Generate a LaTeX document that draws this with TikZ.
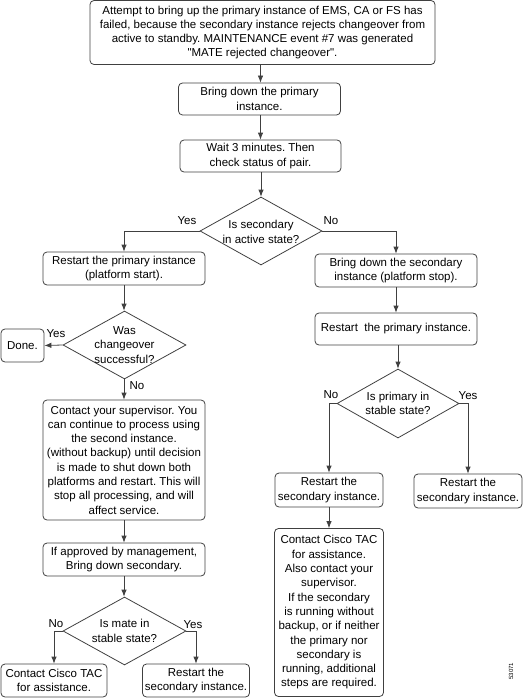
\documentclass[tikz,border=0pt]{standalone}
\usepackage{fontspec}
\setmainfont{Liberation Sans}
\usetikzlibrary{shapes.geometric,arrows.meta}
\frenchspacing
\begin{document}
\begin{tikzpicture}[x=1pt,y=-1pt,
  font=\fontsize{11.5}{14.3}\selectfont,
  ln/.style={draw=black!75, line width=0.8pt},
  box/.style={ln, rounded corners=4pt, align=center, inner sep=0pt},
  dia/.style={ln, shape=diamond, inner sep=0pt, minimum width=#1},
  arr/.style={ln, -{Latex[length=7pt,width=5.5pt]}},
  lbl/.style={inner sep=0pt}]
\useasboundingbox (0,0) rectangle (531,698);
% main column
\node[box, minimum width=345pt, minimum height=64pt] (top) at (262.5,32.5)
  {Attempt to bring up the primary instance of EMS, CA or FS has\\failed, because the secondary instance rejects changeover from\\active to standby. MAINTENANCE event \#7 was generated\\\textquotedbl MATE rejected changeover\textquotedbl.};
\node[box, minimum width=162pt, minimum height=32pt] (b2) at (259.5,99) {Bring down the primary\\instance.};
\node[box, minimum width=161pt, minimum height=32pt] (b3) at (260.5,156) {Wait 3 minutes. Then\\check status of pair.};
\node[dia=122pt, minimum height=68pt] (d1) at (261,231) {};
\node[lbl, align=center] (d1t) at (261,232) {Is secondary\\in active state?};
% left branch
\node[box, minimum width=162pt, minimum height=33pt] (b4) at (124,268.5) {Restart the primary instance\\(platform start).};
\node[dia=123pt, minimum height=68pt] (d2) at (124.5,345) {};
\node[lbl, align=center] (d2t) at (124.5,345) {Was\\changeover\\successful?};
\node[box, minimum width=43pt, minimum height=33pt] (done) at (22.5,345.5) {Done.};
\node[box, minimum width=162pt, minimum height=120pt] (b6) at (124,460)
  {Contact your supervisor. You\\can continue to process using\\the second instance.\\(without backup) until decision\\is made to shut down both\\platforms and restart. This will\\stop all processing, and will\\affect service.};
\node[box, minimum width=162pt, minimum height=33pt] (b11) at (124,559.5) {If approved by management,\\Bring down secondary.};
\node[dia=123pt, minimum height=68pt] (d4) at (124.5,631) {};
\node[lbl, align=center] (d4t) at (124.5,631) {Is mate in\\stable state?};
\node[box, minimum width=106pt, minimum height=33pt] (b12) at (54,680.5) {Contact Cisco TAC\\for assistance.};
\node[box, minimum width=107pt, minimum height=33pt] (b13) at (196,680.5) {Restart the\\secondary instance.};
% right branch
\node[box, minimum width=162pt, minimum height=33pt] (b5) at (396,270.5) {Bring down the secondary\\instance (platform stop).};
\node[box, minimum width=162pt, minimum height=32pt] (b7) at (396,329) {Restart\ \ the primary instance.};
\node[dia=122pt, minimum height=69pt] (d3) at (398,403.5) {};
\node[lbl, align=center] (d3t) at (398,403.5) {Is primary in\\stable state?};
\node[box, minimum width=108pt, minimum height=34pt] (b8) at (329,490) {Restart the\\secondary instance.};
\node[box, minimum width=108pt, minimum height=34pt] (b9) at (468,491) {Restart the\\secondary instance.};
\node[box, minimum width=109pt, minimum height=168pt] (b10) at (329,612.5)
  {Contact Cisco TAC\\for assistance.\\Also contact your\\supervisor.\\If the secondary\\is running without\\backup, or if neither\\the primary nor\\secondary is\\running, additional\\steps are required.};
% connectors
\draw[arr] (top.south -| b3) -- (b2.north -| b3);
\draw[arr] (b2.south -| b3) -- (b3.north);
\draw[arr] (b3.south -| d1) -- (d1.north);
\draw[arr] (d1.west) -| (b4.north);
\draw[arr] (d1.east) -| (b5.north);
\draw[arr] (b4.south) -- (d2.north -| b4);
\draw[arr] (d2.west) -- (done.east);
\draw[arr] (d2.south -| b6) -- (b6.north);
\draw[arr] (b6.south) -- (b11.north);
\draw[arr] (b11.south) -- (d4.north -| b11);
\draw[arr] (d4.west) -| (b12.north);
\draw[arr] (d4.east) -| (b13.north);
\draw[arr] (b5.south) -- (b7.north);
\draw[arr] (b7.south -| d3) -- (d3.north);
\draw[arr] (d3.west) -| (b8.north);
\draw[arr] (d3.east) -| (b9.north);
\draw[arr] (b8.south) -- (b10.north);
% labels
\node[lbl] (y1) at (187,221) {Yes};
\node[lbl] (n1) at (331,221) {No};
\node[lbl] (y2) at (56,334) {Yes};
\node[lbl] (n2) at (137,386) {No};
\node[lbl] (n3) at (331,395) {No};
\node[lbl] (y3) at (468,396) {Yes};
\node[lbl] (n4) at (56,624) {No};
\node[lbl] (y4) at (193,625) {Yes};
\node[lbl, rotate=90, font=\fontsize{6}{7}\selectfont] (id) at (511,671) {53071};
\end{tikzpicture}
\end{document}
